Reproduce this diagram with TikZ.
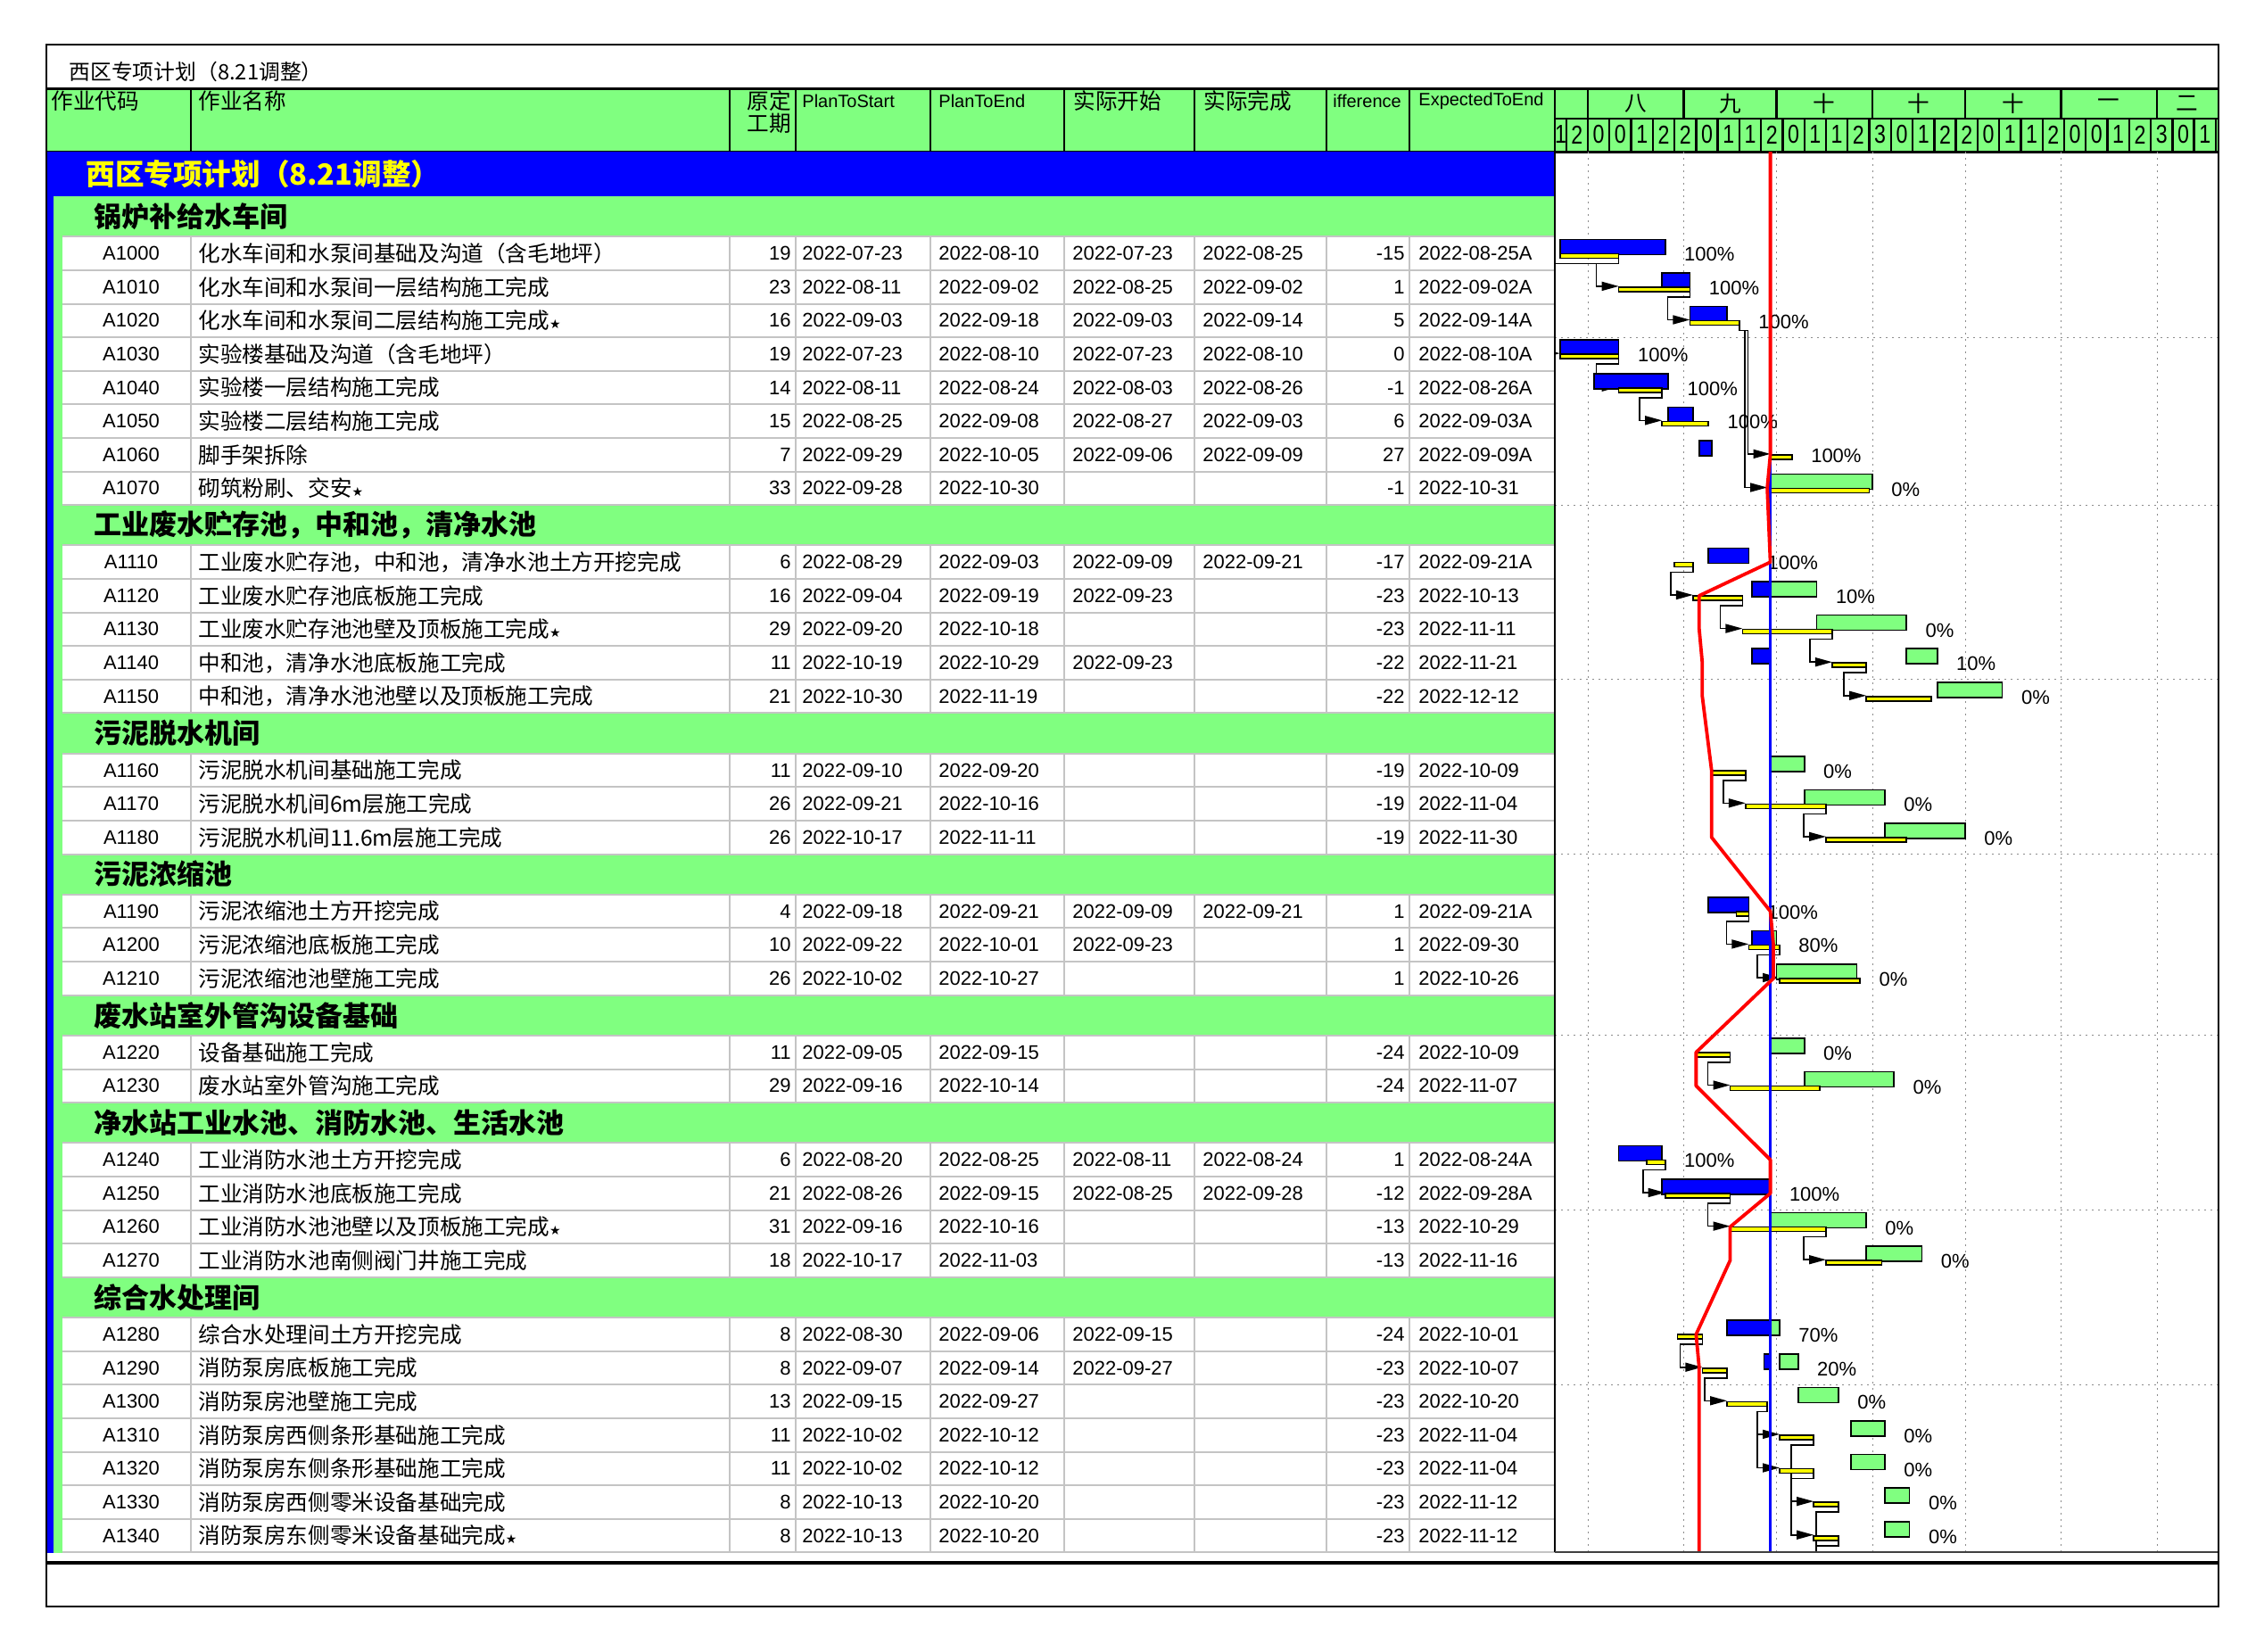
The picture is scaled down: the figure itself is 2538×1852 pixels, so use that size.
\documentclass[tikz,border=0pt]{standalone}
\usepackage{fontspec}
\setmainfont{Liberation Sans}
\newfontfamily\cjk{Noto Sans CJK SC}
\newfontfamily\symf{DejaVu Sans}
\newfontfamily\narrowsans[FakeStretch=0.8]{Liberation Sans}
\usepackage{xcolor}
\usepackage{tikz}
\usetikzlibrary{arrows.meta,positioning,calc}

\definecolor{barblue}{RGB}{0,0,255}
\definecolor{bargreen}{RGB}{128,255,128}
\definecolor{baryellow}{RGB}{255,255,0}
\definecolor{cellgray}{RGB}{196,196,196}
\definecolor{dotgray}{RGB}{140,140,140}

\tikzset{
  txt/.style={inner sep=0pt, font=\fontsize{11}{13}\selectfont},
  cjktxt/.style={inner sep=0pt, anchor=west, font=\cjk\fontsize{12.3}{14}\selectfont},
  grouptxt/.style={inner sep=0pt, anchor=west, font=\cjk\bfseries\fontsize{15.5}{18}\selectfont},
  titletxt/.style={inner sep=0pt, anchor=west, text=baryellow, font=\cjk\bfseries\fontsize{16.3}{19}\selectfont},
  headtxt/.style={inner sep=0pt, anchor=west, font=\fontsize{10}{12}\selectfont},
  headcjk/.style={inner sep=0pt, anchor=west, font=\cjk\fontsize{12.3}{12.6}\selectfont},
  monthtxt/.style={inner sep=0pt, font=\cjk\fontsize{12.3}{14}\selectfont},
  weektxt/.style={inner sep=0pt, font=\narrowsans\fontsize{14.5}{16}\selectfont},
  pctlabel/.style={inner sep=0pt, anchor=west, font=\fontsize{11}{13}\selectfont},
  hline/.style={line width=1.2pt, black},
  cellline/.style={line width=1pt, cellgray},
  dotgrid/.style={line width=0.5pt, dotgray, dash pattern=on 1pt off 2.5pt},
  planbar/.style={draw=black, fill=baryellow, line width=0.8pt},
  donebar/.style={draw=black, fill=barblue, line width=0.8pt},
  restbar/.style={draw=black, fill=bargreen, line width=0.8pt},
  linkline/.style={line width=0.8pt, black, -{Triangle[length=9.5pt,width=5pt]}},
  stubline/.style={line width=0.8pt, black},
  progline/.style={line width=1.9pt, red, line join=round},
  dateline/.style={line width=1.5pt, barblue}
}

\newcommand{\hstar}{{\symf\fontsize{7}{8}\selectfont ★}}
% gantt pieces: row top, first day, day after last
\newcommand{\planbar}[3]{\draw[planbar] ({gx(#2)},#1+19) rectangle ({gx(#3)},#1+24);}
\newcommand{\donebar}[3]{\draw[donebar] ({gx(#2)},#1+3) rectangle ({gx(#3)},#1+20);}
\newcommand{\restbar}[3]{\draw[restbar] ({gx(#2)},#1+3) rectangle ({gx(#3)},#1+20);}
\newcommand{\pct}[4]{\node[pctlabel] (p#1) at ({gx(#3)+21},#2+20) {#4\%};}
% link: pred row top, pred end, succ row top, succ start
\newcommand{\lnk}[4]{\draw[linkline] ({gx(#2)},#1+24) -- ({gx(#2)},#1+30) -- ({gx(#4)-25},#1+30) -- ({gx(#4)-25},#3+18) -- ({gx(#4)},#3+18);}

\begin{document}
\begin{tikzpicture}[x=0.5pt, y=-0.5pt, declare function={gx(\d)=1780+3.4674*\d;}]
    \useasboundingbox (0,0) rectangle (2538,1852);
    \fill[white] (0,0) rectangle (2538,1852);

    % title above the table
    \node[anchor=west, inner sep=0pt, font=\cjk\fontsize{11.9}{14}\selectfont] (maintitle) at (77,80) {西区专项计划（8.21调整）};

    % header
    \fill[bargreen] (52,99) rectangle (2487,170);
    \node[headcjk] (hcode) at (57,113) {作业代码};
    \node[headcjk] (hname) at (222,113) {作业名称};
    \node[headcjk, anchor=north east, align=right] (hdur) at (887,101) {原定\\工期};
    \node[headtxt] (hps) at (899,113) {PlanToStart};
    \node[headtxt] (hpe) at (1052,113) {PlanToEnd};
    \node[headcjk] (has) at (1203,113) {实际开始};
    \node[headcjk] (haf) at (1349,113) {实际完成};
    \node[headtxt] (hdif) at (1494,113) {ifference};
    \node[headtxt] (hex) at (1590,113) {ExpectedToEnd};
    \foreach \cx in {214,818,892,1043,1193,1339,1487,1580,1743}
        \draw[hline] (\cx,99) -- (\cx,170);
    \draw[hline] (1743,133) -- (2487,133);

    % months
    \draw[hline] (1780,99) -- (1780,133);
    \foreach \a/\b/\m [count=\mi] in {0/31/八,31/61/九,61/92/十,92/122/十,122/153/十,153/184/一}{
        \draw[hline] ({gx(\b)},99) -- ({gx(\b)},133);
        \node[monthtxt] (m\mi) at ({(gx(\a)+gx(\b))/2},116) {\m};
    }
    \node[monthtxt] (m7) at (2452,116) {二};

    % weeks
    \node[weektxt] (wfirst) at (1749.5,151) {1};
    \foreach \lab [count=\k from 0] in {2,0,0,1,2,2,0,1,1,2,0,1,1,2,3,0,1,2,2,0,1,1,2,0,0,1,2,3,0,1}{
        \draw[hline] ({gx(-7+7*\k)},133) -- ({gx(-7+7*\k)},170);
        \node[weektxt] (w\k) at ({gx(-3.5+7*\k)},151) {\lab};
    }
    \draw[hline] ({gx(203)},133) -- ({gx(203)},170);
    \draw[line width=1.5pt] (52,99) -- (2487,99);
    \draw[line width=1.5pt] (52,170) -- (2487,170);

    % table body
    \fill[barblue] (52,170) rectangle (1743,220);
    \node[titletxt] (bandtitle) at (96,195) {西区专项计划（8.21调整）};
    \fill[barblue] (52,220) rectangle (60,1741);
    \fill[bargreen] (60,220) rectangle (70,1741);
    \foreach \yt/\gname [count=\gi] in {220/锅炉补给水车间, 566.1/工业废水贮存池，中和池，清净水池, 799.4/污泥脱水机间, 957.5/污泥浓缩池, 1115.6/废水站室外管沟设备基础, 1236.1/净水站工业水池、消防水池、生活水池, 1431.8/综合水处理间}{
        \fill[bargreen] (60,\yt) rectangle (1743,\yt+45.3);
        \node[grouptxt] (g\gi) at (105,\yt+22.6) {\gname};
    }

    \foreach \yt/\code/\name/\dur/\ps/\pe/\as/\af/\dif/\ex in {
        265.3/A1000/化水车间和水泵间基础及沟道（含毛地坪）/19/2022-07-23/2022-08-10/2022-07-23/2022-08-25/-15/2022-08-25A,
        302.9/A1010/化水车间和水泵间一层结构施工完成/23/2022-08-11/2022-09-02/2022-08-25/2022-09-02/1/2022-09-02A,
        340.5/A1020/化水车间和水泵间二层结构施工完成\hstar/16/2022-09-03/2022-09-18/2022-09-03/2022-09-14/5/2022-09-14A,
        378.1/A1030/实验楼基础及沟道（含毛地坪）/19/2022-07-23/2022-08-10/2022-07-23/2022-08-10/0/2022-08-10A,
        415.7/A1040/实验楼一层结构施工完成/14/2022-08-11/2022-08-24/2022-08-03/2022-08-26/-1/2022-08-26A,
        453.3/A1050/实验楼二层结构施工完成/15/2022-08-25/2022-09-08/2022-08-27/2022-09-03/6/2022-09-03A,
        490.9/A1060/脚手架拆除/7/2022-09-29/2022-10-05/2022-09-06/2022-09-09/27/2022-09-09A,
        528.5/A1070/砌筑粉刷、交安\hstar/33/2022-09-28/2022-10-30/{}/{}/-1/2022-10-31,
        611.4/A1110/工业废水贮存池，中和池，清净水池土方开挖完成/6/2022-08-29/2022-09-03/2022-09-09/2022-09-21/-17/2022-09-21A,
        649.0/A1120/工业废水贮存池底板施工完成/16/2022-09-04/2022-09-19/2022-09-23/{}/-23/2022-10-13,
        686.6/A1130/工业废水贮存池池壁及顶板施工完成\hstar/29/2022-09-20/2022-10-18/{}/{}/-23/2022-11-11,
        724.2/A1140/中和池，清净水池底板施工完成/11/2022-10-19/2022-10-29/2022-09-23/{}/-22/2022-11-21,
        761.8/A1150/中和池，清净水池池壁以及顶板施工完成/21/2022-10-30/2022-11-19/{}/{}/-22/2022-12-12,
        844.7/A1160/污泥脱水机间基础施工完成/11/2022-09-10/2022-09-20/{}/{}/-19/2022-10-09,
        882.3/A1170/污泥脱水机间6m层施工完成/26/2022-09-21/2022-10-16/{}/{}/-19/2022-11-04,
        919.9/A1180/污泥脱水机间11.6m层施工完成/26/2022-10-17/2022-11-11/{}/{}/-19/2022-11-30,
        1002.8/A1190/污泥浓缩池土方开挖完成/4/2022-09-18/2022-09-21/2022-09-09/2022-09-21/1/2022-09-21A,
        1040.4/A1200/污泥浓缩池底板施工完成/10/2022-09-22/2022-10-01/2022-09-23/{}/1/2022-09-30,
        1078.0/A1210/污泥浓缩池池壁施工完成/26/2022-10-02/2022-10-27/{}/{}/1/2022-10-26,
        1160.9/A1220/设备基础施工完成/11/2022-09-05/2022-09-15/{}/{}/-24/2022-10-09,
        1198.5/A1230/废水站室外管沟施工完成/29/2022-09-16/2022-10-14/{}/{}/-24/2022-11-07,
        1281.4/A1240/工业消防水池土方开挖完成/6/2022-08-20/2022-08-25/2022-08-11/2022-08-24/1/2022-08-24A,
        1319.0/A1250/工业消防水池底板施工完成/21/2022-08-26/2022-09-15/2022-08-25/2022-09-28/-12/2022-09-28A,
        1356.6/A1260/工业消防水池池壁以及顶板施工完成\hstar/31/2022-09-16/2022-10-16/{}/{}/-13/2022-10-29,
        1394.2/A1270/工业消防水池南侧阀门井施工完成/18/2022-10-17/2022-11-03/{}/{}/-13/2022-11-16,
        1477.1/A1280/综合水处理间土方开挖完成/8/2022-08-30/2022-09-06/2022-09-15/{}/-24/2022-10-01,
        1514.7/A1290/消防泵房底板施工完成/8/2022-09-07/2022-09-14/2022-09-27/{}/-23/2022-10-07,
        1552.3/A1300/消防泵房池壁施工完成/13/2022-09-15/2022-09-27/{}/{}/-23/2022-10-20,
        1589.9/A1310/消防泵房西侧条形基础施工完成/11/2022-10-02/2022-10-12/{}/{}/-23/2022-11-04,
        1627.5/A1320/消防泵房东侧条形基础施工完成/11/2022-10-02/2022-10-12/{}/{}/-23/2022-11-04,
        1665.1/A1330/消防泵房西侧零米设备基础完成/8/2022-10-13/2022-10-20/{}/{}/-23/2022-11-12,
        1702.7/A1340/消防泵房东侧零米设备基础完成\hstar/8/2022-10-13/2022-10-20/{}/{}/-23/2022-11-12}{
        \draw[cellline] (70,\yt) -- (1743,\yt) (70,\yt+37.6) -- (1743,\yt+37.6);
        \foreach \cx in {214,818,892,1043,1193,1339,1487,1580}
            \draw[cellline] (\cx,\yt) -- (\cx,\yt+37.6);
        \node[txt] (c\code) at (147,\yt+18.8) {\code};
        \node[cjktxt] (n\code) at (222,\yt+18.8) {\name};
        \node[txt, anchor=east] (d\code) at (887,\yt+18.8) {\dur};
        \node[txt, anchor=west] (ps\code) at (899,\yt+18.8) {\ps};
        \node[txt, anchor=west] (pe\code) at (1052,\yt+18.8) {\pe};
        \node[txt, anchor=west] (as\code) at (1202,\yt+18.8) {\as};
        \node[txt, anchor=west] (af\code) at (1348,\yt+18.8) {\af};
        \node[txt, anchor=east] (df\code) at (1575,\yt+18.8) {\dif};
        \node[txt, anchor=west] (ex\code) at (1590,\yt+18.8) {\ex};
    }

    % gantt grid
    \foreach \d in {0,31,61,92,122,153,184}
        \draw[dotgrid] ({gx(\d)},170) -- ({gx(\d)},1740);
    \foreach \gy in {378.1,566.1,761.8,957.5,1160.9,1356.6,1552.3}
        \draw[dotgrid] (1743,\gy) -- (2487,\gy);

    % links
    \begin{scope}
        \clip (1743,170) rectangle (2487,1740);
        \lnk{265.3}{10}{302.9}{10}
        \lnk{265.3}{10}{378.1}{-9}
        \lnk{302.9}{33}{340.5}{33}
        \lnk{340.5}{49}{490.9}{59}
        \lnk{340.5}{49}{528.5}{58}
        \lnk{378.1}{10}{415.7}{10}
        \lnk{415.7}{24}{453.3}{24}
        \lnk{611.4}{34}{649.0}{34}
        \lnk{649.0}{50}{686.6}{50}
        \lnk{686.6}{79}{724.2}{79}
        \lnk{724.2}{90}{761.8}{90}
        \lnk{844.7}{51}{882.3}{51}
        \lnk{882.3}{77}{919.9}{77}
        \lnk{1002.8}{52}{1040.4}{52}
        \lnk{1040.4}{62}{1078.0}{62}
        \lnk{1160.9}{46}{1198.5}{46}
        \lnk{1281.4}{25}{1319.0}{25}
        \lnk{1319.0}{46}{1356.6}{46}
        \lnk{1356.6}{77}{1394.2}{77}
        \lnk{1477.1}{37}{1514.7}{37}
        \lnk{1514.7}{45}{1552.3}{45}
        \lnk{1552.3}{58}{1589.9}{62}
        \lnk{1552.3}{58}{1627.5}{62}
        \lnk{1589.9}{73}{1665.1}{73}
        \lnk{1627.5}{73}{1702.7}{73}
        \draw[stubline] ({gx(81)},1689.1) -- ({gx(81)},1695.1) -- ({gx(81)-25},1695.1) -- ({gx(81)-25},1740);
        \draw[stubline] ({gx(81)},1726.7) -- ({gx(81)},1732.7) -- ({gx(81)-25},1732.7) -- ({gx(81)-25},1740);
    \end{scope}

    % bars
    \donebar{265.3}{-9}{25}   \planbar{265.3}{-9}{10}   \pct{A1000}{265.3}{25}{100}
    \donebar{302.9}{24}{33}   \planbar{302.9}{10}{33}   \pct{A1010}{302.9}{33}{100}
    \donebar{340.5}{33}{45}   \planbar{340.5}{33}{49}   \pct{A1020}{340.5}{49}{100}
    \donebar{378.1}{-9}{10}   \planbar{378.1}{-9}{10}   \pct{A1030}{378.1}{10}{100}
    \donebar{415.7}{2}{26}    \planbar{415.7}{10}{24}   \pct{A1040}{415.7}{26}{100}
    \donebar{453.3}{26}{34}   \planbar{453.3}{24}{39}   \pct{A1050}{453.3}{39}{100}
    \donebar{490.9}{36}{40}   \planbar{490.9}{59}{66}   \pct{A1060}{490.9}{66}{100}
    \restbar{528.5}{59}{92}   \planbar{528.5}{58}{91}   \pct{A1070}{528.5}{92}{0}
    \donebar{611.4}{39}{52}   \planbar{611.4}{28}{34}   \pct{A1110}{611.4}{52}{100}
    \donebar{649.0}{53}{59}   \restbar{649.0}{59}{74}   \planbar{649.0}{34}{50}   \pct{A1120}{649.0}{74}{10}
    \restbar{686.6}{74}{103}  \planbar{686.6}{50}{79}   \pct{A1130}{686.6}{103}{0}
    \donebar{724.2}{53}{59}   \restbar{724.2}{103}{113} \planbar{724.2}{79}{90}   \pct{A1140}{724.2}{113}{10}
    \restbar{761.8}{113}{134} \planbar{761.8}{90}{111}  \pct{A1150}{761.8}{134}{0}
    \restbar{844.7}{59}{70}   \planbar{844.7}{40}{51}   \pct{A1160}{844.7}{70}{0}
    \restbar{882.3}{70}{96}   \planbar{882.3}{51}{77}   \pct{A1170}{882.3}{96}{0}
    \restbar{919.9}{96}{122}  \planbar{919.9}{77}{103}  \pct{A1180}{919.9}{122}{0}
    \donebar{1002.8}{39}{52}  \planbar{1002.8}{48}{52}  \pct{A1190}{1002.8}{52}{100}
    \donebar{1040.4}{53}{59}  \restbar{1040.4}{59}{61}  \planbar{1040.4}{52}{62}  \pct{A1200}{1040.4}{62}{80}
    \restbar{1078.0}{61}{87}  \planbar{1078.0}{62}{88}  \pct{A1210}{1078.0}{88}{0}
    \restbar{1160.9}{59}{70}  \planbar{1160.9}{35}{46}  \pct{A1220}{1160.9}{70}{0}
    \restbar{1198.5}{70}{99}  \planbar{1198.5}{46}{75}  \pct{A1230}{1198.5}{99}{0}
    \donebar{1281.4}{10}{24}  \planbar{1281.4}{19}{25}  \pct{A1240}{1281.4}{25}{100}
    \donebar{1319.0}{24}{59}  \planbar{1319.0}{25}{46}  \pct{A1250}{1319.0}{59}{100}
    \restbar{1356.6}{59}{90}  \planbar{1356.6}{46}{77}  \pct{A1260}{1356.6}{90}{0}
    \restbar{1394.2}{90}{108} \planbar{1394.2}{77}{95}  \pct{A1270}{1394.2}{108}{0}
    \donebar{1477.1}{45}{59}  \restbar{1477.1}{59}{62}  \planbar{1477.1}{29}{37}  \pct{A1280}{1477.1}{62}{70}
    \donebar{1514.7}{57}{59}  \restbar{1514.7}{62}{68}  \planbar{1514.7}{37}{45}  \pct{A1290}{1514.7}{68}{20}
    \restbar{1552.3}{68}{81}  \planbar{1552.3}{45}{58}  \pct{A1300}{1552.3}{81}{0}
    \restbar{1589.9}{85}{96}  \planbar{1589.9}{62}{73}  \pct{A1310}{1589.9}{96}{0}
    \restbar{1627.5}{85}{96}  \planbar{1627.5}{62}{73}  \pct{A1320}{1627.5}{96}{0}
    \restbar{1665.1}{96}{104} \planbar{1665.1}{73}{81}  \pct{A1330}{1665.1}{104}{0}
    \restbar{1702.7}{96}{104} \planbar{1702.7}{73}{81}  \pct{A1340}{1702.7}{104}{0}

    % data date and progress line
    \draw[dateline] ({gx(59)},170) -- ({gx(59)},1740);
    \draw[progline] ({gx(59)},170) -- ({gx(59)},509.7) -- ({gx(58)},547.3) -- ({gx(59)},630.2)
        -- ({gx(36)},667.8) -- ({gx(36)},705.4) -- ({gx(37)},743.0) -- ({gx(37)},780.6)
        -- ({gx(40)},863.5) -- ({gx(40)},938.7) -- ({gx(59)},1021.6) -- ({gx(60)},1059.2)
        -- ({gx(60)},1096.8) -- ({gx(35)},1179.7) -- ({gx(35)},1217.3) -- ({gx(59)},1300.2)
        -- ({gx(59)},1337.8) -- ({gx(46)},1375.4) -- ({gx(46)},1413.0) -- ({gx(35)},1495.9)
        -- ({gx(36)},1533.5) -- ({gx(36)},1740);

    % frame
    \draw[line width=1pt] (1743,99) -- (1743,1740);
    \draw[line width=1pt, black!75] (1743,1740) -- (2487,1740);
    \draw[line width=1.6pt] (52,1752) -- (2487,1752);
    \draw[line width=1pt] (52,50) rectangle (2487,1801);
\end{tikzpicture}
\end{document}
